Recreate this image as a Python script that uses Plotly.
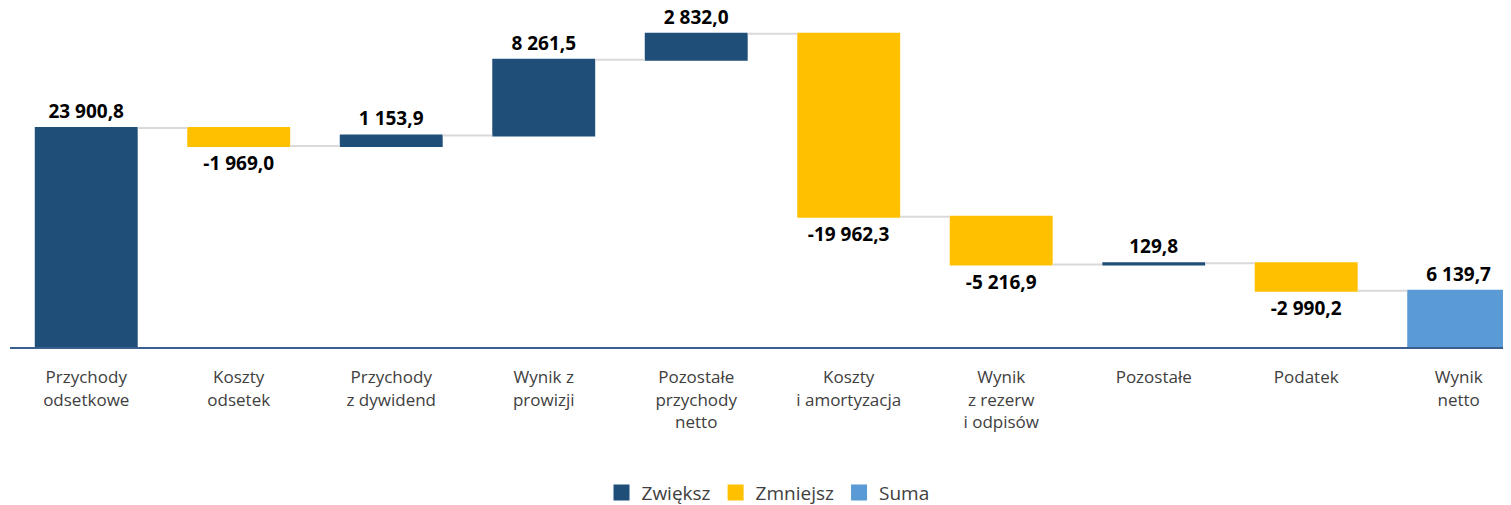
import plotly.graph_objects as go

categories = ["Przychody<br>odsetkowe", "Koszty<br>odsetek", "Przychody<br>z dywidend",
              "Wynik z<br>prowizji", "Pozostałe<br>przychody<br>netto", "Koszty<br>i amortyzacja",
              "Wynik<br>z rezerw<br>i odpisów", "Pozostałe", "Podatek", "Wynik<br>netto"]
values = [23900.8, -1969.0, 1153.9, 8261.5, 2832.0, -19962.3, -5216.9, 129.8, -2990.2, 6139.7]
measures = ["relative"] * 9 + ["total"]
legend_names = ["Zwiększ", "Zmniejsz", "Suma"]
colors = ["#1F4E79", "#FFC000", "#5B9BD5"]


def fmt(v):
    s = f"{abs(v):,.1f}".replace(",", " ").replace(".", ",")
    return ("-" if v < 0 else "") + s


labels = [fmt(v) for v in values]

fig = go.Figure()
fig.add_trace(go.Waterfall(
    x=categories, y=values, measure=measures,
    text=labels, textposition="outside",
    textfont=dict(family="Open Sans", size=19, color="#000000", weight="bold"),
    increasing=dict(marker=dict(color=colors[0])),
    decreasing=dict(marker=dict(color=colors[1])),
    totals=dict(marker=dict(color=colors[2])),
    connector=dict(mode="between", line=dict(color="#D9D9D9", width=2)),
    cliponaxis=False, showlegend=False, hoverinfo="skip",
))
for name, c in zip(legend_names, colors):
    fig.add_trace(go.Scatter(x=[None], y=[None], mode="markers", name=name,
                             marker=dict(symbol="square", size=19, color=c)))

fig.update_layout(
    width=1511, height=505,
    margin=dict(l=2, r=8, t=2, b=166),
    paper_bgcolor="white", plot_bgcolor="white",
    waterfallgap=0.325,
    font=dict(family="Open Sans", size=17, color="#404040"),
    xaxis=dict(range=[-0.5, 9.343], showgrid=False, showline=True, linecolor="#3A5F8F",
               linewidth=2, ticks="", ticklabelstandoff=14,
               tickfont=dict(family="Open Sans", size=17, color="#404040")),
    yaxis=dict(range=[0, 36780], visible=False, showgrid=False, zeroline=False),
    legend=dict(orientation="h", x=0.505, xanchor="center", y=-0.432, yanchor="middle",
                font=dict(family="Open Sans", size=19, color="#404040"),
                itemsizing="trace"),
)

fig.write_html("out.html")
